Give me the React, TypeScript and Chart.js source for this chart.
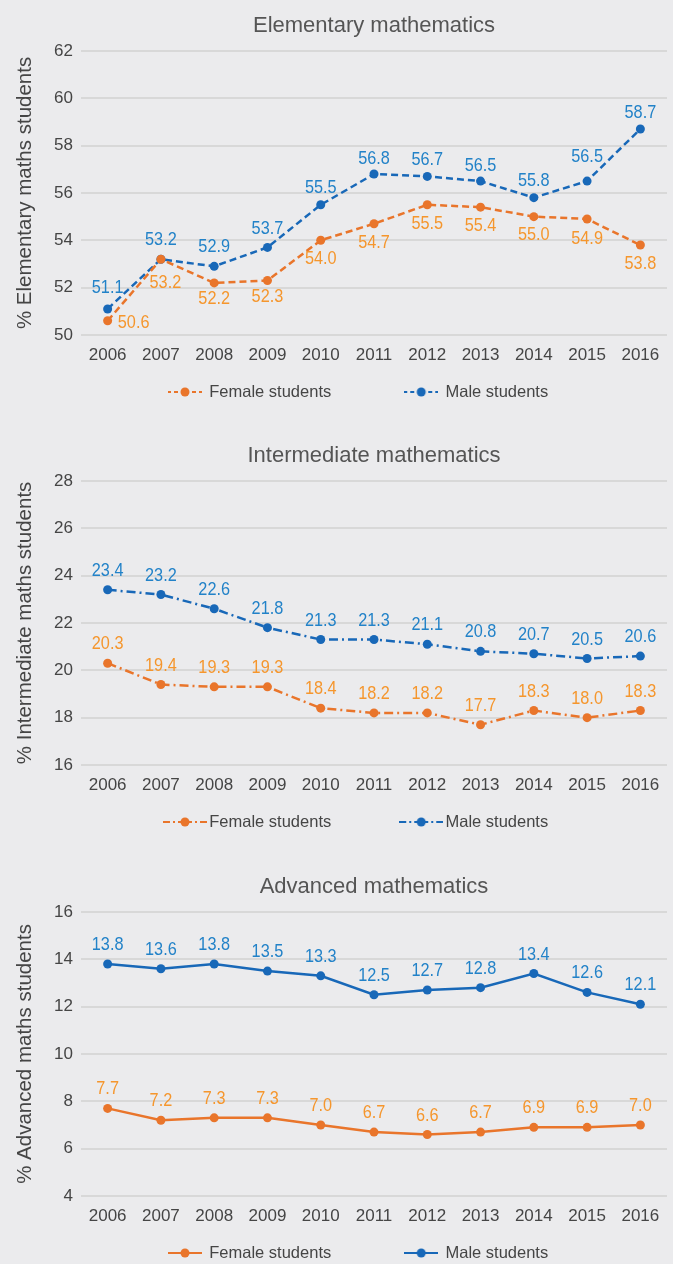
import React, { useEffect, useRef } from 'react';
import { Chart, registerables } from 'chart.js';

Chart.register(...registerables);

// ---------- data ----------
const years = ['2006', '2007', '2008', '2009', '2010', '2011', '2012', '2013', '2014', '2015', '2016'];

const elementaryFemale = [50.6, 53.2, 52.2, 52.3, 54.0, 54.7, 55.5, 55.4, 55.0, 54.9, 53.8];
const elementaryMale = [51.1, 53.2, 52.9, 53.7, 55.5, 56.8, 56.7, 56.5, 55.8, 56.5, 58.7];
const elementaryRange = [50, 62];

const intermediateFemale = [20.3, 19.4, 19.3, 19.3, 18.4, 18.2, 18.2, 17.7, 18.3, 18.0, 18.3];
const intermediateMale = [23.4, 23.2, 22.6, 21.8, 21.3, 21.3, 21.1, 20.8, 20.7, 20.5, 20.6];
const intermediateRange = [16, 28];

const advancedFemale = [7.7, 7.2, 7.3, 7.3, 7.0, 6.7, 6.6, 6.7, 6.9, 6.9, 7.0];
const advancedMale = [13.8, 13.6, 13.8, 13.5, 13.3, 12.5, 12.7, 12.8, 13.4, 12.6, 12.1];
const advancedRange = [4, 16];

const seriesNames = ['Female students', 'Male students'];

// ---------- styles ----------
const FONT = "'Liberation Sans', Arial, sans-serif";
const BG = '#ebebed';
const ORANGE = 'rgb(233,117,43)';
const ORANGE_TEXT = 'rgb(245,150,45)';
const BLUE = 'rgb(24,104,184)';
const BLUE_TEXT = 'rgb(34,130,200)';
const TEXT = '#454545';
const GRID = '#d8d8d8';

const above = (n: number, dy = -19) => Array.from({ length: n }, () => [0, dy]);

// label placement (offsets from the point)
const elemFemaleOffsets = [[26, 2.5], [4.5, 24], [0, 15.5], [0, 16.5], [0, 19], [0, 19], [0, 19], [0, 18.5], [0, 18.7], [0, 20], [0, 19]];
const elemMaleOffsets = [[0, -21.5], [0, -19], [0, -19.5], [0, -18.3], [0, -17], [0, -15], [0, -16.3], [0, -15.7], [0, -16.3], [0, -24], [0, -15.7]];

function makeMarker(color: string, dash: number[], width: number) {
  const c = document.createElement('canvas');
  c.width = width;
  c.height = 12;
  const ctx = c.getContext('2d')!;
  ctx.strokeStyle = color;
  ctx.lineWidth = 2;
  ctx.setLineDash(dash);
  const mid = width / 2;
  ctx.beginPath();
  ctx.moveTo(mid, 6);
  ctx.lineTo(0, 6);
  ctx.stroke();
  ctx.beginPath();
  ctx.moveTo(mid, 6);
  ctx.lineTo(width, 6);
  ctx.stroke();
  ctx.setLineDash([]);
  ctx.fillStyle = color;
  ctx.beginPath();
  ctx.arc(mid, 6, 4.5, 0, Math.PI * 2);
  ctx.fill();
  return c;
}

const valueLabels = {
  id: 'valueLabels',
  afterDatasetsDraw(chart: any) {
    const ctx = chart.ctx;
    chart.data.datasets.forEach((ds: any, i: number) => {
      const meta = chart.getDatasetMeta(i);
      meta.data.forEach((pt: any, j: number) => {
        const off = ds.labelOffsets[j];
        ctx.save();
        ctx.translate(pt.x + off[0], pt.y + off[1]);
        ctx.scale(0.88, 1);
        ctx.font = `18.5px ${FONT}`;
        ctx.fillStyle = ds.labelColor;
        ctx.textAlign = 'center';
        ctx.textBaseline = 'middle';
        ctx.fillText(Number(ds.data[j]).toFixed(1), 0, 0);
        ctx.restore();
      });
    });
  },
};

const LEGEND_PAD = 74;
const LEGEND_FONT = 16.5;
const legendPlace = {
  id: 'legendPlace',
  afterLayout(chart: any) {
    const lg = chart.legend;
    if (!lg) return;
    const lw = lg.lineWidths ? lg.lineWidths[0] : 454;
    const targetStart = 169;
    lg.right = 673;
    lg.left = 2 * targetStart - LEGEND_PAD - lg.right + lw;
    lg.top = 392 - LEGEND_PAD - LEGEND_FONT / 2;
    lg.bottom = lg.top + LEGEND_PAD + 40;
    lg.width = lg.right - lg.left;
    lg.height = lg.bottom - lg.top;
  },
};

type Props = {
  top: number;
  title: string;
  yTitle: string;
  female: number[];
  male: number[];
  range: number[];
  dash: number[];
  legendDash: number[];
  markerWidth: number;
  femaleOffsets: number[][];
  maleOffsets: number[][];
};

function LineChart(p: Props) {
  const ref = useRef<HTMLCanvasElement>(null);
  useEffect(() => {
    const fMarker = makeMarker(ORANGE, p.legendDash, p.markerWidth);
    const mMarker = makeMarker(BLUE, p.legendDash, p.markerWidth);
    const chart = new Chart(ref.current!, {
      type: 'line',
      data: {
        labels: years,
        datasets: [
          {
            label: seriesNames[0],
            data: p.female,
            borderColor: ORANGE,
            backgroundColor: ORANGE,
            borderWidth: 2.5,
            borderDash: p.dash,
            pointRadius: 4.5,
            pointBackgroundColor: ORANGE,
            pointBorderWidth: 0,
            tension: 0,
            labelOffsets: p.femaleOffsets,
            labelColor: ORANGE_TEXT,
          } as any,
          {
            label: seriesNames[1],
            data: p.male,
            borderColor: BLUE,
            backgroundColor: BLUE,
            borderWidth: 2.5,
            borderDash: p.dash,
            pointRadius: 4.5,
            pointBackgroundColor: BLUE,
            pointBorderWidth: 0,
            tension: 0,
            labelOffsets: p.maleOffsets,
            labelColor: BLUE_TEXT,
          } as any,
        ],
      },
      options: {
        responsive: false,
        animation: false,
        layout: { padding: { top: 0, left: 0, right: 6, bottom: 45 } },
        plugins: {
          title: {
            display: true,
            text: p.title,
            fullSize: false,
            color: '#555',
            font: { family: FONT, size: 22, weight: 'normal', lineHeight: 1.2 },
            padding: { top: 12.5, bottom: 12 },
          },
          legend: {
            position: 'bottom',
            maxHeight: 10,
            labels: {
              usePointStyle: true,
              pointStyleWidth: 32,
              padding: LEGEND_PAD,
              color: TEXT,
              font: { family: FONT, size: LEGEND_FONT },
              generateLabels: (chart: any) => {
                const items = Chart.defaults.plugins.legend.labels.generateLabels(chart);
                items.forEach((it: any, i: number) => {
                  it.pointStyle = i === 0 ? fMarker : mMarker;
                });
                return items;
              },
            },
          },
          tooltip: { enabled: false },
        },
        scales: {
          x: {
            offset: true,
            grid: { display: false, drawTicks: false },
            border: { display: false },
            ticks: { color: TEXT, font: { family: FONT, size: 17 }, padding: 10.5, maxRotation: 0, autoSkip: false },
            afterFit: (s: any) => {
              s.height = 40;
            },
          },
          y: {
            min: p.range[0],
            max: p.range[1],
            ticks: { stepSize: 2, padding: 8, color: TEXT, font: { family: FONT, size: 17 } },
            grid: { color: GRID, lineWidth: 2, drawTicks: false },
            border: { display: false },
            title: {
              display: true,
              text: p.yTitle,
              color: TEXT,
              font: { family: FONT, size: 20.5, lineHeight: 1.2 },
              padding: { top: 13.5, bottom: 0 },
            },
            afterFit: (s: any) => {
              s.width = 81;
            },
          },
        },
      } as any,
      plugins: [valueLabels, legendPlace],
    });
    return () => chart.destroy();
  }, []);
  return (
    <div style={{ position: 'absolute', left: 0, top: p.top, width: 673, height: 430 }}>
      <canvas ref={ref} width={673} height={430} style={{ display: 'block' }} />
    </div>
  );
}

export default function App() {
  return (
    <div
      style={{
        position: 'fixed',
        left: 0,
        top: 0,
        width: 673,
        height: 1264,
        overflow: 'hidden',
        background: BG,
      }}
    >
      <LineChart
        top={0}
        title="Elementary mathematics"
        yTitle="% Elementary maths students"
        female={elementaryFemale}
        male={elementaryMale}
        range={elementaryRange}
        dash={[7, 4]}
        legendDash={[4, 3]}
        markerWidth={34}
        femaleOffsets={elemFemaleOffsets}
        maleOffsets={elemMaleOffsets}
      />
      <LineChart
        top={430}
        title="Intermediate mathematics"
        yTitle="% Intermediate maths students"
        female={intermediateFemale}
        male={intermediateMale}
        range={intermediateRange}
        dash={[9, 4, 2, 4]}
        legendDash={[7, 3, 2, 3]}
        markerWidth={44}
        femaleOffsets={above(11)}
        maleOffsets={above(11)}
      />
      <LineChart
        top={861}
        title="Advanced mathematics"
        yTitle="% Advanced maths students"
        female={advancedFemale}
        male={advancedMale}
        range={advancedRange}
        dash={[]}
        legendDash={[]}
        markerWidth={34}
        femaleOffsets={above(11)}
        maleOffsets={above(11)}
      />
    </div>
  );
}
